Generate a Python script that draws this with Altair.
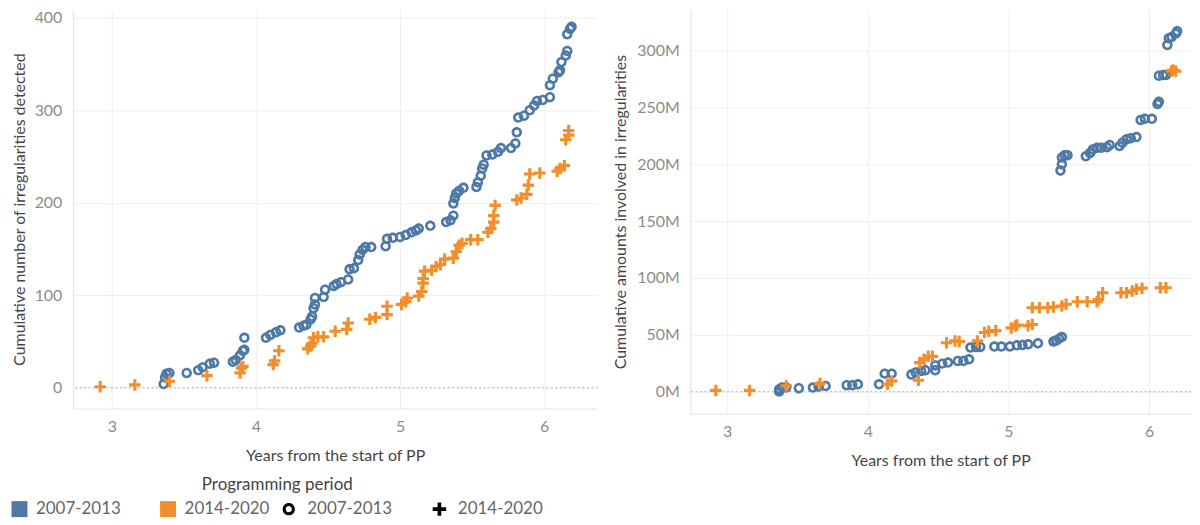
import altair as alt
import pandas as pd

BLUE = "#4e79a7"
ORANGE = "#f28e2b"
FONT = "Lato"
periods = ["2007-2013", "2014-2020"]

# ---- Left panel: cumulative number of irregularities ----
blue_x_count = [3.36, 3.37, 3.38, 3.40, 3.52, 3.60, 3.63, 3.68, 3.71, 3.84, 3.86, 3.89, 3.91, 3.92, 3.92,
                4.07, 4.10, 4.14, 4.17, 4.30, 4.33, 4.35, 4.38, 4.39, 4.40, 4.41, 4.41, 4.47, 4.48, 4.54,
                4.56, 4.59, 4.64, 4.65, 4.68, 4.71, 4.72, 4.74, 4.76, 4.80, 4.90, 4.91, 4.95, 5.00, 5.04,
                5.08, 5.11, 5.13, 5.21, 5.32, 5.35, 5.37, 5.37, 5.38, 5.39, 5.41, 5.44, 5.53, 5.54, 5.56,
                5.57, 5.58, 5.60, 5.64, 5.68, 5.70, 5.77, 5.80, 5.81, 5.82, 5.86, 5.90, 5.93, 5.95, 5.99,
                6.04, 6.04, 6.06, 6.10, 6.11, 6.12, 6.15, 6.16, 6.16, 6.18, 6.19]
blue_count = [4, 11, 15, 16, 16, 19, 22, 26, 27, 28, 30, 35, 40, 41, 54,
              54, 57, 60, 62, 65, 67, 68, 74, 77, 86, 90, 97, 98, 106, 110,
              112, 114, 117, 128, 129, 138, 144, 149, 152, 152, 153, 161, 162, 163, 165,
              168, 170, 172, 175, 179, 181, 186, 199, 205, 210, 213, 216, 217, 222, 229,
              237, 241, 251, 252, 255, 259, 259, 264, 276, 292, 294, 300, 305, 310, 311,
              314, 327, 334, 341, 343, 352, 359, 364, 382, 388, 390]

orange_x_count = [2.92, 3.16, 3.40, 3.66, 3.89, 3.90, 3.91, 4.12, 4.13, 4.16, 4.36, 4.38, 4.39, 4.40, 4.43,
                  4.47, 4.55, 4.63, 4.64, 4.79, 4.83, 4.91, 4.91, 5.01, 5.04, 5.05, 5.13, 5.15, 5.16, 5.16,
                  5.17, 5.22, 5.25, 5.28, 5.31, 5.37, 5.39, 5.41, 5.43, 5.49, 5.54, 5.61, 5.63, 5.65, 5.65,
                  5.66, 5.81, 5.84, 5.88, 5.89, 5.90, 5.97, 6.09, 6.11, 6.14, 6.15, 6.17, 6.17]
orange_count = [1, 3, 7, 13, 16, 21, 23, 25, 29, 40, 42, 45, 48, 54, 55,
                55, 61, 63, 70, 74, 76, 79, 88, 90, 93, 97, 99, 104, 113, 118,
                126, 127, 131, 133, 139, 140, 147, 154, 156, 160, 160, 168, 172, 179, 186,
                197, 203, 205, 209, 219, 231, 232, 234, 237, 240, 268, 273, 278]

# ---- Right panel: cumulative amounts (millions) ----
blue_x_amt = [3.37, 3.37, 3.39, 3.42, 3.51, 3.61, 3.65, 3.70, 3.85, 3.89, 3.93, 4.08, 4.12, 4.17, 4.31,
              4.34, 4.38, 4.41, 4.48, 4.48, 4.53, 4.57, 4.64, 4.68, 4.72, 4.73, 4.77, 4.80, 4.90, 4.95,
              5.01, 5.06, 5.10, 5.14, 5.21, 5.32, 5.34, 5.36, 5.38, 5.37, 5.38, 5.38, 5.40, 5.42, 5.55,
              5.58, 5.60, 5.63, 5.66, 5.70, 5.72, 5.79, 5.81, 5.84, 5.87, 5.91, 5.94, 5.97, 6.02, 6.06,
              6.07, 6.07, 6.10, 6.12, 6.13, 6.14, 6.16, 6.19, 6.20]
blue_amt_m = [0, 2, 3.5, 3.5, 3, 3.5, 4.4, 5, 5.6, 5.6, 6.4, 6.4, 15.8, 15.8, 15,
              16.7, 18, 18.8, 18.8, 23, 24.6, 25.5, 27, 27, 28.4, 38.7, 39.3, 39.3, 39.6, 39.6,
              39.6, 40.7, 41, 41.6, 42.5, 44, 45, 46.6, 48, 194.5, 200, 206, 208, 208, 207,
              210, 213, 214.5, 214.5, 215, 217, 216, 219, 222, 223, 224, 239, 240, 240, 253,
              255, 278, 278.5, 278.5, 305, 311, 312, 315, 317]

orange_x_amt = [2.92, 3.16, 3.42, 3.66, 4.14, 4.17, 4.36, 4.37, 4.40, 4.43, 4.46, 4.56, 4.62, 4.65, 4.78,
                4.83, 4.86, 4.91, 5.02, 5.05, 5.06, 5.14, 5.17, 5.17, 5.22, 5.28, 5.32, 5.38, 5.41, 5.49,
                5.56, 5.63, 5.64, 5.67, 5.80, 5.84, 5.88, 5.91, 5.95, 6.08, 6.12, 6.16, 6.17, 6.19]
orange_amt_m = [1, 1, 5, 7, 6.4, 9.4, 10, 25.5, 28.4, 31, 31, 43, 44.6, 44, 44.6,
                52, 53, 53.6, 56, 57.7, 58.6, 58, 59, 73.8, 73.8, 73.8, 74.4, 75.3, 76.8, 79,
                79, 79, 81, 87, 87, 87, 88.5, 90, 91, 91.4, 91.4, 282, 283, 282]

count_df = pd.concat([
    pd.DataFrame({"years": blue_x_count, "value": blue_count, "period": periods[0]}),
    pd.DataFrame({"years": orange_x_count, "value": orange_count, "period": periods[1]}),
], ignore_index=True)
amt_df = pd.concat([
    pd.DataFrame({"years": blue_x_amt, "value": [v * 1e6 for v in blue_amt_m], "period": periods[0]}),
    pd.DataFrame({"years": orange_x_amt, "value": [v * 1e6 for v in orange_amt_m], "period": periods[1]}),
], ignore_index=True)

# filled symbol outlines: a ring (outer clockwise, inner counter-clockwise) and a plus
RING = ("M1,0A1,1 0 1,1 -1,0A1,1 0 1,1 1,0Z"
        "M0.5,0A0.5,0.5 0 1,0 -0.5,0A0.5,0.5 0 1,0 0.5,0Z")
PLUS = "M-1.1,-0.3H-0.3V-1.1H0.3V-0.3H1.1V0.3H0.3V1.1H-0.3V0.3H-1.1Z"

color_scale = alt.Scale(domain=periods, range=[BLUE, ORANGE])
shape_scale = alt.Scale(range=[RING, PLUS])

color_legend = alt.Legend(
    title=None, orient="none", legendX=-62, legendY=492, direction="horizontal",
    symbolType="square", symbolSize=256, symbolStrokeWidth=0, symbolOpacity=1,
    labelFont=FONT, labelFontSize=17, labelColor="#666666", labelOffset=8,
    columnPadding=38, padding=0,
)
shape_legend = alt.Legend(
    title=None, orient="none", legendX=208, legendY=492, direction="horizontal",
    symbolSize=150, symbolFillColor="black", symbolStrokeWidth=0, symbolOpacity=1,
    labelFont=FONT, labelFontSize=17, labelColor="#666666", labelOffset=10,
    columnPadding=38, padding=0,
)


def panel(df, ytitle, ydomain, yvalues, xdomain, width, height, with_legend, label_expr=None,
          title_pad=7):
    yaxis_kwargs = dict(values=yvalues, title=ytitle, titlePadding=title_pad, labelPadding=11)
    if label_expr:
        yaxis_kwargs["labelExpr"] = label_expr
    pts = alt.Chart(df).mark_point(filled=True, size=110, opacity=1, strokeWidth=0).encode(
        x=alt.X("years:Q", scale=alt.Scale(domain=xdomain, nice=False, zero=False),
                axis=alt.Axis(values=[3, 4, 5, 6], title="Years from the start of PP",
                              labelPadding=10, titlePadding=13)),
        y=alt.Y("value:Q", scale=alt.Scale(domain=ydomain, nice=False, zero=False),
                axis=alt.Axis(**yaxis_kwargs)),
        color=alt.Color("period:N", scale=color_scale,
                        legend=color_legend if with_legend else None),
        shape=alt.Shape("period:N", scale=shape_scale,
                        legend=shape_legend if with_legend else None),
    )
    zero = alt.Chart(pd.DataFrame({"z": [0]})).mark_rule(
        color="#b5b5b5", strokeDash=[1.5, 3], strokeWidth=1.3
    ).encode(y="z:Q")
    return alt.layer(zero, pts).properties(width=width, height=height)


left = panel(count_df, "Cumulative number of irregularities detected", [-22.6, 408.6],
             [0, 100, 200, 300, 400], [2.73, 6.37], 526, 400, True)

legend_title = alt.Chart(pd.DataFrame({"t": ["Programming period"]})).mark_text(
    font=FONT, fontSize=17, color="#444444", align="center", baseline="middle"
).encode(x=alt.value(205), y=alt.value(477), text="t:N")
left = alt.layer(left, legend_title)

right = panel(amt_df, "Cumulative amounts involved in irregularities", [-19.4e6, 336.1e6],
              [0, 50e6, 100e6, 150e6, 200e6, 250e6, 300e6], [2.738, 6.298], 502, 405, False,
              label_expr="datum.value / 1000000 + 'M'", title_pad=8)

chart = alt.hconcat(left, right, spacing=14).properties(
    padding={"left": 3, "top": 0, "right": 0, "bottom": 0}
).configure_view(
    strokeWidth=0
).configure_axis(
    gridColor="#eeeeee", gridWidth=1, domainColor="#e3e3e3", domainWidth=1, ticks=False,
    labelFont=FONT, labelFontSize=16, labelColor="#8c8c8c",
    titleFont=FONT, titleFontSize=16, titleColor="#444444", titleFontWeight="normal",
)

chart.save("out.html", embed_options={"renderer": "svg", "actions": False})
